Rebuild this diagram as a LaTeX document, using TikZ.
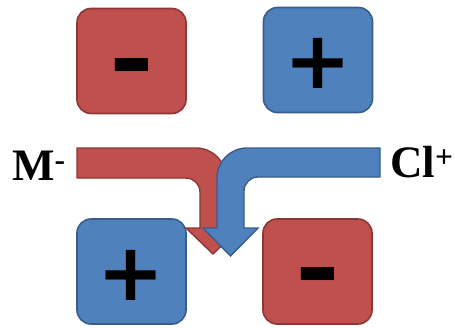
\documentclass[tikz,border=0pt]{standalone}
\usepackage{graphicx}
\usepackage{fontspec}
\setmainfont{Liberation Serif}
\newfontfamily\signfont{DejaVu Sans}
\definecolor{boxred}{HTML}{C0504D}
\definecolor{boxredline}{HTML}{8C3836}
\definecolor{boxblue}{HTML}{4F81BD}
\definecolor{boxblueline}{HTML}{385D8A}
\begin{document}
\begin{tikzpicture}[x=1pt,y=-1pt,
  chargebox/.style={rectangle, rounded corners=14pt, minimum width=109pt, minimum height=105pt, line width=1.6pt, inner sep=0pt},
  redbox/.style={chargebox, fill=boxred, draw=boxredline},
  bluebox/.style={chargebox, fill=boxblue, draw=boxblueline},
  signtext/.style={inner sep=0pt, font=\signfont\bfseries\fontsize{80}{80}\selectfont},
  redarrow/.style={fill=boxred, draw=boxredline, line width=1.4pt, line join=miter},
  bluearrow/.style={fill=boxblue, draw=boxblueline, line width=1.4pt, line join=miter},
  ionlabel/.style={anchor=base west, inner sep=0pt, font=\bfseries\fontsize{45}{45}\selectfont}]
\useasboundingbox (0,0) rectangle (455,327);
% boxes
\node[redbox]  (tl) at (131.5,61) {};
\node[bluebox] (tr) at (318,60) {};
\node[bluebox] (bl) at (131.5,271.5) {};
\node[redbox]  (br) at (317.5,271.5) {};
% signs
\node[signtext] (tls) at ([yshift=-13.5pt]tl.center) {\scalebox{1.35}[1.15]{-}};
\node[signtext] (trs) at ([yshift=-3pt]tr.center) {+};
\node[signtext] (bls) at ([yshift=-3.5pt]bl.center) {+};
\node[signtext] (brs) at ([yshift=-12pt]br.center) {\scalebox{1.35}[1.15]{-}};
% labels
\node[ionlabel] (M) at (12,180) {M\textsuperscript{-}};
\node[ionlabel] (Cl) at (390,177) {Cl\textsuperscript{+}};
% red bent arrow
\draw[redarrow] (77,148) -- (196,148) .. controls (212.6,148) and (226,161.4) .. (226,178)
  -- (226,228) -- (240,228) -- (213,254) -- (186,228) -- (200,228) -- (200,192)
  .. controls (200,184.3) and (193.7,178) .. (186,178) -- (77,178) -- cycle;
% blue bent arrow
\draw[bluearrow] (380,148) -- (247,148) .. controls (230.4,148) and (217,161.4) .. (217,178)
  -- (217,228) -- (203,228) -- (230.5,256) -- (258,228) -- (244,228) -- (244,191)
  .. controls (244,183.3) and (250.3,177) .. (258,177) -- (380,177) -- cycle;
\end{tikzpicture}
\end{document}
